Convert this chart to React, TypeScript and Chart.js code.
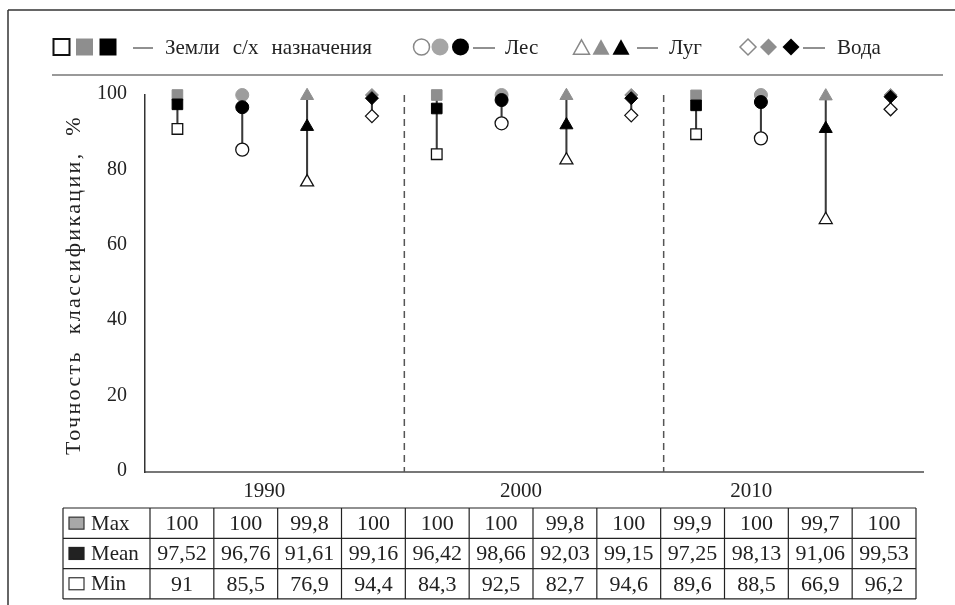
import React, { useEffect, useRef } from 'react';
import { Chart, registerables } from 'chart.js';

Chart.register(...registerables);

const years = ['1990', '2000', '2010'];
const classes = ['Земли с/х назначения', 'Лес', 'Луг', 'Вода'];
const categories = years.flatMap((y) => classes.map((c) => `${y} ${c}`));
const maxValues = [100, 100, 99.8, 100, 100, 100, 99.8, 100, 99.9, 100, 99.7, 100];
const meanValues = [97.52, 96.76, 91.61, 99.16, 96.42, 98.66, 92.03, 99.15, 97.25, 98.13, 91.06, 99.53];
const minValues = [91, 85.5, 76.9, 94.4, 84.3, 92.5, 82.7, 94.6, 89.6, 88.5, 66.9, 96.2];
const yTicks = [0, 20, 40, 60, 80, 100];
const rowLabels = ['Max', 'Mean', 'Min'];
const legendLabels = ['Земли с/х назначения', 'Лес', 'Луг', 'Вода'];
const yTitle = 'Точность  классификации,  %';

const FONT = '"Liberation Serif", "Times New Roman", serif';
const TEXT = '#222';
const GRAY = '#8e8e8e';
const shapes = ['rect', 'circle', 'triangle', 'rectRot'];
const radii: Record<string, number> = { rect: 7.5, circle: 6.5, triangle: 7.5, rectRot: 6.5 };
const ptStyle = categories.map((_, i) => shapes[i % 4]);
const ptRadius = categories.map((_, i) => radii[shapes[i % 4]]);

function fmt(v: number) {
  return String(v).replace('.', ',');
}

function drawShape(ctx: CanvasRenderingContext2D, kind: string, cx: number, cy: number, s: number, fill: string, stroke: string | null, lw: number) {
  ctx.beginPath();
  if (kind === 'rect') {
    ctx.rect(cx - s / 2, cy - s / 2, s, s);
  } else if (kind === 'circle') {
    ctx.arc(cx, cy, s / 2, 0, Math.PI * 2);
  } else if (kind === 'triangle') {
    const h = s * 0.9;
    ctx.moveTo(cx, cy - h / 2);
    ctx.lineTo(cx + s / 2, cy + h / 2);
    ctx.lineTo(cx - s / 2, cy + h / 2);
    ctx.closePath();
  } else {
    ctx.moveTo(cx, cy - s / 2);
    ctx.lineTo(cx + s / 2, cy);
    ctx.lineTo(cx, cy + s / 2);
    ctx.lineTo(cx - s / 2, cy);
    ctx.closePath();
  }
  ctx.fillStyle = fill;
  ctx.fill();
  if (stroke) {
    ctx.strokeStyle = stroke;
    ctx.lineWidth = lw;
    ctx.stroke();
  }
}

// draws words left-aligned from x, spreading the gaps so the line spans `target` px
function fitWords(ctx: CanvasRenderingContext2D, text: string, x: number, y: number, target: number) {
  const words = text.split(' ');
  const widths = words.map((w) => ctx.measureText(w).width);
  const sum = widths.reduce((a, b) => a + b, 0);
  const space = ctx.measureText(' ').width;
  const gap = words.length > 1 ? Math.max(space, (target - sum) / (words.length - 1)) : 0;
  let cx = x;
  words.forEach((w, i) => {
    ctx.fillText(w, cx, y);
    cx += widths[i] + gap;
  });
}

// letter-spaced text spanning `target` px
function spacedText(ctx: CanvasRenderingContext2D, text: string, x: number, y: number, target: number) {
  const anyCtx = ctx as any;
  anyCtx.letterSpacing = '0px';
  const w = ctx.measureText(text).width;
  anyCtx.letterSpacing = `${(target - w) / text.length}px`;
  ctx.fillText(text, x, y);
  anyCtx.letterSpacing = '0px';
}

function line(ctx: CanvasRenderingContext2D, x1: number, y1: number, x2: number, y2: number, color: string, w: number) {
  ctx.beginPath();
  ctx.moveTo(x1, y1);
  ctx.lineTo(x2, y2);
  ctx.strokeStyle = color;
  ctx.lineWidth = w;
  ctx.stroke();
}

const decorPlugin = {
  id: 'decor',
  beforeDatasetsDraw(chart: any) {
    const ctx: CanvasRenderingContext2D = chart.ctx;
    const xs = chart.scales.x;
    const area = chart.chartArea;
    ctx.save();
    ctx.setLineDash([7, 5]);
    for (let g = 1; g < years.length; g++) {
      const x = (xs.getPixelForValue(g * 4 - 1) + xs.getPixelForValue(g * 4)) / 2;
      line(ctx, x, area.top, x, area.bottom, '#555', 1.5);
    }
    ctx.setLineDash([]);
    ctx.restore();
  },
  afterDraw(chart: any) {
    const ctx: CanvasRenderingContext2D = chart.ctx;
    const xs = chart.scales.x;
    ctx.save();
    // frame
    line(ctx, 8, 10, 955, 10, '#333', 1.5);
    line(ctx, 8, 10, 8, 605, '#333', 1.5);
    // legend underline
    line(ctx, 52, 75, 943, 75, '#777', 1.5);

    // legend
    const ly = 47;
    const legendGroups = [
      { kind: 'rect', xs: [61.5, 84.5, 108], dash: [133, 153], tx: 165, tw: 207 },
      { kind: 'circle', xs: [421.5, 440, 460.5], dash: [473, 495], tx: 505, tw: 33 },
      { kind: 'triangle', xs: [581.5, 601, 621], dash: [637, 658], tx: 669, tw: 33 },
      { kind: 'rectRot', xs: [748, 768.5, 791], dash: [803, 825], tx: 837, tw: 43 },
    ];
    ctx.font = `21px ${FONT}`;
    ctx.textBaseline = 'middle';
    ctx.textAlign = 'left';
    legendGroups.forEach((g, i) => {
      const s = 17;
      if (g.kind === 'rect') {
        drawShape(ctx, 'rect', g.xs[0], ly, s - 1, '#fff', '#111', 2);
      } else {
        drawShape(ctx, g.kind, g.xs[0], ly, s - 1, '#fff', '#888', 1.5);
      }
      drawShape(ctx, g.kind, g.xs[1], ly, s, g.kind === 'circle' ? '#a5a5a5' : GRAY, null, 0);
      drawShape(ctx, g.kind, g.xs[2], ly, s, '#000', null, 0);
      line(ctx, g.dash[0], ly + 1, g.dash[1], ly + 1, '#222', 1);
      ctx.fillStyle = TEXT;
      fitWords(ctx, legendLabels[i], g.tx, ly + 1, g.tw);
    });

    // y title
    ctx.save();
    ctx.translate(74, 285);
    ctx.rotate(-Math.PI / 2);
    ctx.font = `22px ${FONT}`;
    ctx.textAlign = 'left';
    ctx.fillStyle = TEXT;
    spacedText(ctx, yTitle, -170, 0, 340);
    ctx.restore();

    // group labels
    const groupPos = [1.34, 5.3, 8.85];
    ctx.font = `21px ${FONT}`;
    ctx.textAlign = 'center';
    ctx.fillStyle = TEXT;
    years.forEach((y, i) => {
      ctx.fillText(y, xs.getPixelForValue(groupPos[i]), 491);
    });

    // table
    const tLeft = 63, tLab = 150, tRight = 916, tTop = 508, rowH = 30.3;
    const colW = (tRight - tLab) / categories.length;
    const rows = [maxValues, meanValues, minValues];
    const tBottom = tTop + rowH * rows.length;
    for (let r = 0; r <= rows.length; r++) {
      line(ctx, tLeft, tTop + r * rowH, tRight, tTop + r * rowH, '#222', 1.2);
    }
    line(ctx, tLeft, tTop, tLeft, tBottom, '#222', 1.2);
    for (let c = 0; c <= categories.length; c++) {
      const x = tLab + c * colW;
      line(ctx, x, tTop, x, tBottom, '#222', 1.2);
    }
    const swatch = [
      { fill: '#a8a8a8', stroke: '#333' },
      { fill: '#222', stroke: '#222' },
      { fill: '#fff', stroke: '#333' },
    ];
    rows.forEach((vals, r) => {
      const cy = tTop + r * rowH + rowH / 2 + 1;
      ctx.fillStyle = swatch[r].fill;
      ctx.fillRect(69, cy - 7, 15, 12);
      ctx.strokeStyle = swatch[r].stroke;
      ctx.lineWidth = 1.2;
      ctx.strokeRect(69, cy - 7, 15, 12);
      ctx.fillStyle = TEXT;
      ctx.textAlign = 'left';
      ctx.font = `21px ${FONT}`;
      ctx.fillText(rowLabels[r], 91, cy);
      ctx.textAlign = 'center';
      ctx.font = `22px ${FONT}`;
      vals.forEach((v, c) => {
        ctx.fillText(fmt(v), tLab + c * colW + colW / 2, cy);
      });
    });
    ctx.restore();
  },
};

export default function App() {
  const ref = useRef<HTMLCanvasElement>(null);
  useEffect(() => {
    document.body.style.margin = '0';
    const canvas = ref.current!;
    const chart = new Chart(canvas, {
      type: 'line',
      data: {
        labels: categories,
        datasets: [
          {
            type: 'bar',
            label: 'range',
            data: categories.map((_, i) => [minValues[i], maxValues[i]]) as any,
            backgroundColor: '#3a3a3a',
            barThickness: 1.4,
            order: 4,
          } as any,
          {
            label: 'Min',
            data: minValues,
            showLine: false,
            pointStyle: ptStyle as any,
            pointRadius: ptRadius,
            pointBackgroundColor: '#fff',
            pointBorderColor: '#111',
            pointBorderWidth: 1.3,
            clip: false as any,
            order: 3,
          },
          {
            label: 'Max',
            data: maxValues,
            showLine: false,
            pointStyle: ptStyle as any,
            pointRadius: ptRadius,
            pointBackgroundColor: categories.map((_, i) => (i % 4 === 1 ? '#9d9d9d' : GRAY)),
            pointBorderColor: categories.map((_, i) => (i % 4 === 1 ? '#9d9d9d' : GRAY)),
            pointBorderWidth: 1,
            clip: false as any,
            order: 2,
          },
          {
            label: 'Mean',
            data: meanValues,
            showLine: false,
            pointStyle: ptStyle as any,
            pointRadius: ptRadius,
            pointBackgroundColor: '#000',
            pointBorderColor: '#000',
            pointBorderWidth: 1,
            clip: false as any,
            order: 1,
          },
        ],
      },
      options: {
        responsive: false,
        animation: false,
        layout: { padding: { top: 95, left: 0, right: 32, bottom: 133 } },
        plugins: { legend: { display: false }, tooltip: { enabled: false } },
        scales: {
          x: {
            type: 'category',
            offset: true,
            grid: { display: false, drawTicks: false },
            ticks: { display: false },
            border: { display: true, color: '#777', width: 2 },
            afterFit: (s: any) => {
              s.height = 0;
            },
          },
          y: {
            min: 0,
            max: 100,
            afterBuildTicks: (s: any) => {
              s.ticks = yTicks.map((v) => ({ value: v }));
            },
            grid: { display: false, drawTicks: false },
            border: { display: true, color: '#333', width: 1.5 },
            ticks: {
              padding: 18,
              labelOffset: -1,
              color: TEXT,
              font: { family: FONT, size: 20 },
            },
            afterFit: (s: any) => {
              s.width = 145;
            },
          },
        },
      },
      plugins: [decorPlugin],
    });
    return () => chart.destroy();
  }, []);
  return (
    <div style={{ width: 955, height: 605 }}>
      <canvas ref={ref} width={955} height={605} style={{ display: 'block' }} />
    </div>
  );
}
